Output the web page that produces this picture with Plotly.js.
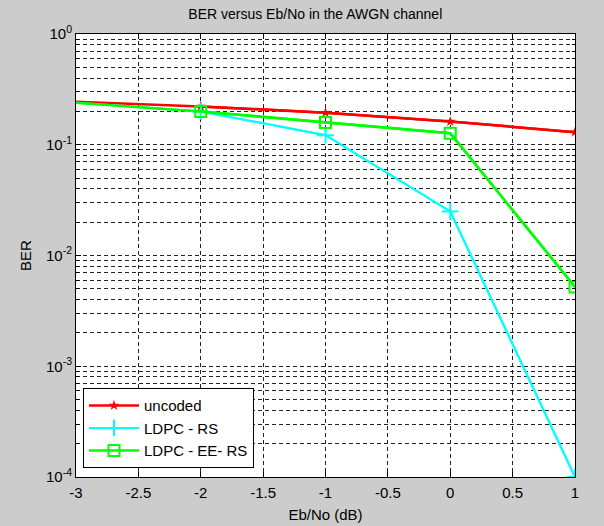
<!DOCTYPE html>
<html><head><meta charset="utf-8">
<script src="https://cdn.plot.ly/plotly-3.0.1.min.js"></script>
<style>html,body{margin:0;padding:0;background:#cccccc;}#chart{width:604px;height:526px;}</style>
</head><body><div id="chart"></div>
<script>
const ebno = [-3, -2, -1, 0, 1];
const uncoded = [0.245, 0.222, 0.195, 0.162, 0.13];
const ldpcRS = [0.24, 0.2, 0.122, 0.025, 0.0001];
const ldpcEERS = [0.24, 0.2, 0.159, 0.127, 0.0052];
const xTickVals = [-3, -2.5, -2, -1.5, -1, -0.5, 0, 0.5, 1];
const xTickText = ['-3', '-2.5', '-2', '-1.5', '-1', '-0.5', '0', '0.5', '1'];
const yTickVals = [1e-4, 1e-3, 1e-2, 1e-1, 1];
const yTickText = ['10<sup>-4</sup>', '10<sup>-3</sup>', '10<sup>-2</sup>', '10<sup>-1</sup>', '10<sup>0</sup>'];

// minor log grid positions (2..9 within each decade)
const yMinorVals = [];
for (let d = -4; d < 0; d++) for (let m = 2; m <= 9; m++) yMinorVals.push(m * Math.pow(10, d));

const ff = 'Liberation Sans, Arial, sans-serif';
const font = {family: ff, size: 15, color: '#000'};
const dashPat = '4px,3px';
const gridCol = '#222';

const series = [
  {name: 'uncoded', y: uncoded, color: '#ff0000', lw: 2.5,
   marker: {symbol: 'star', size: 8, color: '#ff0000'}},
  {name: 'LDPC - RS', y: ldpcRS, color: '#00ffff', lw: 2,
   marker: {symbol: 'cross-thin-open', size: 12, color: '#00ffff', line: {color: '#00ffff', width: 2}}},
  {name: 'LDPC - EE- RS', y: ldpcEERS, color: '#00ff00', lw: 2.5,
   marker: {symbol: 'square-open', size: 11, color: '#00ff00', line: {color: '#00ff00', width: 2}}}
];
const traces = [];
series.forEach((s, k) => {
  // full line (the reference shows no marker on the left-edge point)
  traces.push({x: ebno, y: s.y, mode: 'lines', legendgroup: 'g' + k, showlegend: false,
               line: {color: s.color, width: s.lw}, hoverinfo: 'skip'});
  traces.push({x: ebno.slice(1), y: s.y.slice(1), name: s.name, mode: 'lines+markers', legendgroup: 'g' + k,
               line: {color: s.color, width: s.lw}, marker: s.marker});
});
const layout = {
  width: 604, height: 526,
  paper_bgcolor: '#cccccc', plot_bgcolor: '#ffffff',
  margin: {l: 76, r: 29, t: 34, b: 49},
  font: font,
  title: {text: 'BER versus Eb/No in the AWGN channel', font: {family: ff, size: 14, color: '#000'}, x: 0.522, xanchor: 'center', y: 0.973, yanchor: 'middle'},
  showlegend: true,
  legend: {x: 0.014, y: 0.02, xanchor: 'left', yanchor: 'bottom', bgcolor: '#ffffff', bordercolor: '#000', borderwidth: 1,
           font: {family: ff, size: 15, color: '#000'}, tracegroupgap: 3, traceorder: 'normal', itemwidth: 50},
  xaxis: {
    range: [-3, 1], tickvals: xTickVals, ticktext: xTickText,
    showgrid: true, gridcolor: gridCol, griddash: dashPat, gridwidth: 1,
    zeroline: false, showline: true, linecolor: '#000', linewidth: 1, mirror: 'ticks',
    ticks: 'inside', ticklen: 5, tickcolor: '#000', tickfont: {family: ff, size: 15, color: '#000'},
    ticklabelstandoff: 2,
    title: {text: 'Eb/No (dB)', font: {family: ff, size: 15, color: '#000'}, standoff: 9}
  },
  yaxis: {
    type: 'log', range: [-4, 0], tickvals: yTickVals, ticktext: yTickText,
    showgrid: true, gridcolor: gridCol, griddash: dashPat, gridwidth: 1,
    zeroline: false, showline: true, linecolor: '#000', linewidth: 1, mirror: 'ticks',
    ticks: 'inside', ticklen: 5, tickcolor: '#000', tickfont: {family: ff, size: 15, color: '#000'},
    minor: {tickmode: 'array', tickvals: yMinorVals, showgrid: true, gridcolor: gridCol, griddash: dashPat, gridwidth: 1,
            ticks: 'inside', ticklen: 3, tickcolor: '#000'},
    title: {text: 'BER', font: {family: ff, size: 15, color: '#000'}, standoff: 10}
  }
};
Plotly.newPlot('chart', traces, layout, {displayModeBar: false, staticPlot: true});
</script></body></html>
